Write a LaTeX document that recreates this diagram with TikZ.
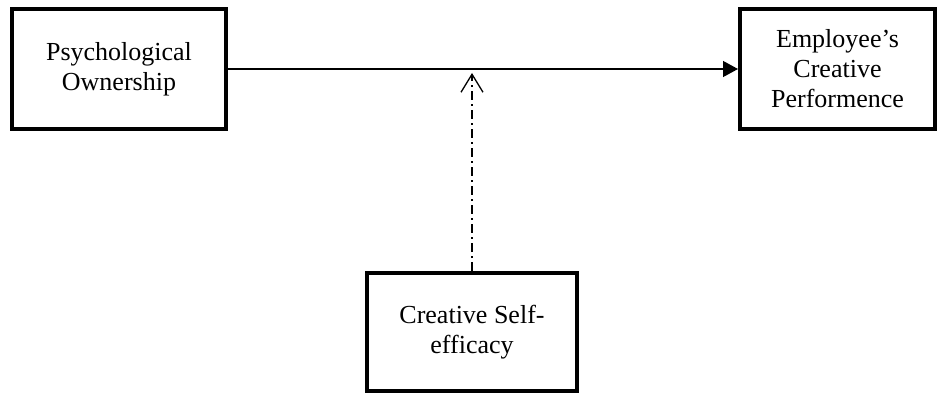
\documentclass[tikz,border=0pt]{standalone}
\usepackage{fontspec}
\setmainfont{Liberation Serif}
\usetikzlibrary{arrows.meta}

\begin{document}
\begin{tikzpicture}[x=1pt, y=1pt,
        varbox/.style={draw, line width=4pt, rectangle, align=center, inner sep=0pt,
            minimum height=120pt, font=\fontsize{26}{30}\selectfont}]
    \useasboundingbox (0,0) rectangle (945,394);

    \node[varbox, minimum width=214pt] (po) at (119,325) {Psychological\\Ownership};
    \node[varbox, minimum width=195pt] (ecp) at (837.5,325) {Employee’s\\Creative\\Performence};
    \node[varbox, minimum width=210pt, minimum height=118pt] (cse) at (472,62) {Creative Self-\\efficacy};
    \coordinate (mod) at (472,321);

    \draw[-{Triangle[length=15pt, width=16pt]}, line width=1.3pt] (po) edge (ecp);
    \draw[-{Straight Barb[length=18pt, width=22pt, line width=1.3pt]}, line width=1.5pt,
        dash pattern=on 9pt off 4pt on 2pt off 4pt] (cse) edge (mod);
\end{tikzpicture}
\end{document}
